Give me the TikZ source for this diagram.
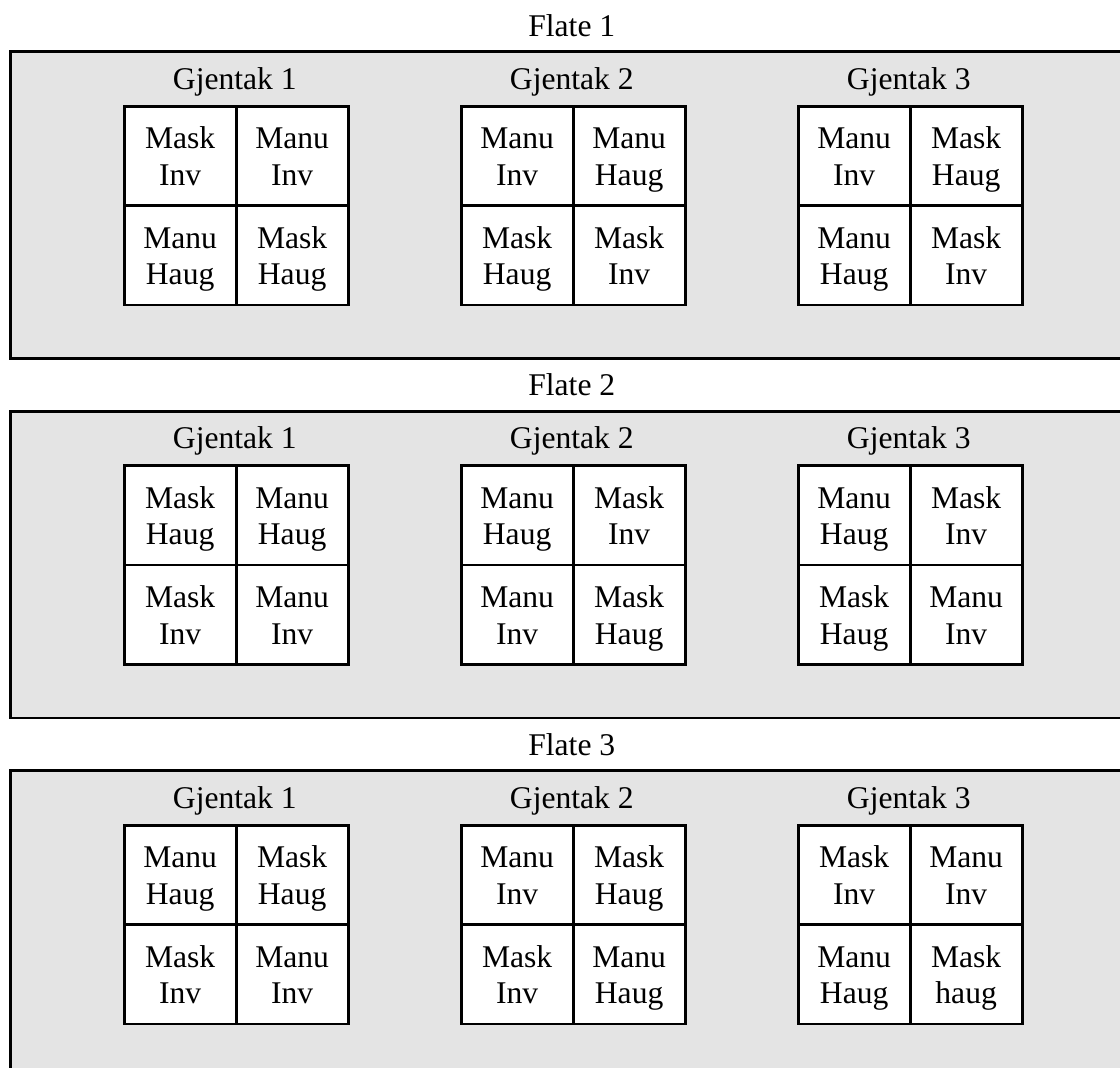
\documentclass[tikz,border=0pt]{standalone}
\usepackage{fontspec}
\setmainfont{Liberation Serif}
\definecolor{panelgray}{HTML}{E4E4E4}
\newcommand\cellfont{\fontsize{31.6}{36.7}\selectfont}
\newcommand\gjblock[8]{%
  \node[title] (#1t) at (#2+112,#3+37.6) {#4};
  \node[cell,anchor=north west] (#1a) at (#2,#3+53.2) {#5};
  \node[cell,anchor=north west] (#1b) at (#2+112,#3+53.2) {#6};
  \node[cell,anchor=north west] (#1c) at (#2,#3+152.5) {#7};
  \node[cell,anchor=north west] (#1d) at (#2+112,#3+152.5) {#8};
}
\begin{document}
\begin{tikzpicture}[x=1pt,y=-1pt,
  panel/.style={draw=black,line width=2.7pt,fill=panelgray},
  cell/.style={draw=black,line width=2.7pt,fill=white,minimum width=112pt,
    minimum height=99.3pt,inner sep=0pt,align=center,font=\cellfont,
    text height=60pt,text depth=1pt},
  title/.style={font=\cellfont,inner sep=0pt,anchor=base}]
\useasboundingbox (0,0) rectangle (1120,1068);
\clip (0,0) rectangle (1120,1068);
\foreach \p/\T in {1/51.7,2/411.2,3/770.7}{
  \node[title] (flate\p) at (571.8,\T-15.7) {Flate \p};
  \path[panel] (10.7,\T) rectangle (1140,\T+306.8);
}
% Flate 1
\gjblock{pa}{122.8}{51.7}{Gjentak 1}{Mask\\Inv}{Manu\\Inv}{Manu\\Haug}{Mask\\Haug}
\gjblock{pb}{459.8}{51.7}{Gjentak 2}{Manu\\Inv}{Manu\\Haug}{Mask\\Haug}{Mask\\Inv}
\gjblock{pc}{796.8}{51.7}{Gjentak 3}{Manu\\Inv}{Mask\\Haug}{Manu\\Haug}{Mask\\Inv}
% Flate 2
\gjblock{qa}{122.8}{411.2}{Gjentak 1}{Mask\\Haug}{Manu\\Haug}{Mask\\Inv}{Manu\\Inv}
\gjblock{qb}{459.8}{411.2}{Gjentak 2}{Manu\\Haug}{Mask\\Inv}{Manu\\Inv}{Mask\\Haug}
\gjblock{qc}{796.8}{411.2}{Gjentak 3}{Manu\\Haug}{Mask\\Inv}{Mask\\Haug}{Manu\\Inv}
% Flate 3
\gjblock{ra}{122.8}{770.7}{Gjentak 1}{Manu\\Haug}{Mask\\Haug}{Mask\\Inv}{Manu\\Inv}
\gjblock{rb}{459.8}{770.7}{Gjentak 2}{Manu\\Inv}{Mask\\Haug}{Mask\\Inv}{Manu\\Haug}
\gjblock{rc}{796.8}{770.7}{Gjentak 3}{Mask\\Inv}{Manu\\Inv}{Manu\\Haug}{Mask\\haug}
\end{tikzpicture}
\end{document}
